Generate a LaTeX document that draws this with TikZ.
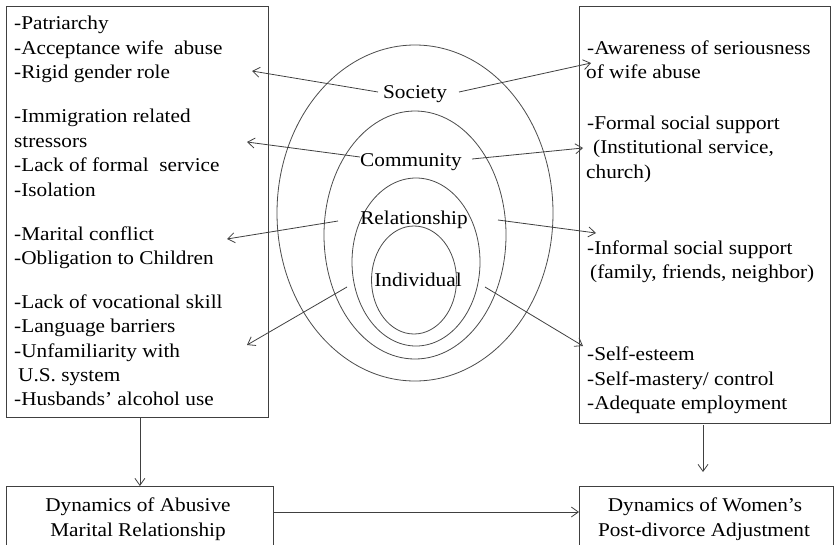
\documentclass[tikz,border=0pt]{standalone}
\usepackage{fontspec}
\setmainfont{Liberation Serif}
\newfontfamily\tnr{Liberation Serif}[FakeStretch=1.09]
\usetikzlibrary{arrows.meta,shapes.geometric}
\begin{document}
\begin{tikzpicture}[x=1pt,y=-1pt,
  every node/.style={inner sep=0pt, font=\tnr\fontsize{19.5}{23}\selectfont},
  ln/.style={draw=black!75, line width=0.8pt},
  arr/.style={ln, -{Straight Barb[length=7pt,width=10pt]}},
  boxn/.style={draw=black!75, line width=0.8pt, anchor=north west, inner sep=0pt},
  lt/.style={anchor=base west, text=black},
  ct/.style={anchor=base, text=black},
  ring/.style={draw=black!70, line width=0.8pt, ellipse, inner sep=0pt}]
\useasboundingbox (0,0) rectangle (834,544);
\fill[white] (0,0) rectangle (834,544);
% boxes
\node[boxn, minimum width=262pt, minimum height=411pt] (lbox) at (6,6) {};
\node[boxn, minimum width=251pt, minimum height=417pt] (rbox) at (579,6) {};
\node[boxn, minimum width=267pt, minimum height=80pt] (abr) at (6,486) {};
\node[boxn, minimum width=254pt, minimum height=80pt] (wpa) at (579,486) {};
% ellipses
\node[ring, minimum width=276pt, minimum height=336pt] (e1) at (415,213) {};
\node[ring, minimum width=182pt, minimum height=248pt] (e2) at (415,235) {};
\node[ring, minimum width=128pt, minimum height=168pt] (e3) at (416,262) {};
\node[ring, minimum width=85pt, minimum height=108pt] (e4) at (414,280) {};
% ring labels
\node[ct] (soc) at (415,98) {Society};
\node[ct] (com) at (411,166) {Community};
\node[ct] (rel) at (414,224) {Relationship};
\node[ct] (ind) at (418,286) {Individual};
% left texts
\node[lt] (l1) at (14,29) {-Patriarchy};
\node[lt] (l2) at (14,54) {-Acceptance wife\ \ abuse};
\node[lt] (l3) at (14,78) {-Rigid gender role};
\node[lt] (l4) at (14,122) {-Immigration related};
\node[lt] (l5) at (14,147) {stressors};
\node[lt] (l6) at (14,171) {-Lack of formal\ \ service};
\node[lt] (l7) at (14,196) {-Isolation};
\node[lt] (l8) at (14,240) {-Marital conflict};
\node[lt] (l9) at (14,264) {-Obligation to Children};
\node[lt] (l10) at (14,308) {-Lack of vocational skill};
\node[lt] (l11) at (14,332) {-Language barriers};
\node[lt] (l12) at (14,357) {-Unfamiliarity with};
\node[lt] (l13) at (18,381) {U.S.\ system};
\node[lt] (l14) at (14,405) {-Husbands’ alcohol use};
% right texts
\node[lt] (r1) at (587,54) {-Awareness of seriousness};
\node[lt] (r2) at (586,78) {of wife abuse};
\node[lt] (r3) at (587,129) {-Formal social support};
\node[lt] (r4) at (593,153) {(Institutional service,};
\node[lt] (r5) at (586,178) {church)};
\node[lt] (r6) at (587,254) {-Informal social support};
\node[lt] (r7) at (590,278) {(family, friends, neighbor)};
\node[lt] (r8) at (587,360) {-Self-esteem};
\node[lt] (r9) at (587,385) {-Self-mastery/ control};
\node[lt] (r10) at (587,409) {-Adequate employment};
% bottom texts
\node[ct] (b1) at (138,511) {Dynamics of Abusive};
\node[ct] (b2) at (138,536) {Marital Relationship};
\node[ct] (b3) at (705,511) {Dynamics of Women’s};
\node[ct] (b4) at (704,536) {Post-divorce Adjustment};
% arrow end points
\coordinate (sL0) at (378,92);  \coordinate (sL1) at (252,71);
\coordinate (cL0) at (360,157); \coordinate (cL1) at (247,142);
\coordinate (rL0) at (338,221); \coordinate (rL1) at (227,239);
\coordinate (iL0) at (347,287); \coordinate (iL1) at (247,345);
\coordinate (sR0) at (459,92);  \coordinate (sR1) at (591,63);
\coordinate (cR0) at (472,159); \coordinate (cR1) at (583,148);
\coordinate (rR0) at (498,220); \coordinate (rR1) at (596,233);
\coordinate (iR0) at (485,287); \coordinate (iR1) at (583,346);
\draw[arr] (sL0) -- (sL1);
\draw[arr] (cL0) -- (cL1);
\draw[arr] (rL0) -- (rL1);
\draw[arr] (iL0) -- (iL1);
\draw[arr] (sR0) -- (sR1);
\draw[arr] (cR0) -- (cR1);
\draw[arr] (rR0) -- (rR1);
\draw[arr] (iR0) -- (iR1);
% vertical and horizontal connectors
\draw[arr] (lbox.south -| abr.north) -- (abr.north);
\coordinate (rv0) at (703,425);
\coordinate (rv1) at (703,472);
\draw[arr] (rv0) -- (rv1);
\coordinate (hy) at (0,512);
\draw[arr] (abr.east |- hy) -- (wpa.west |- hy);
\end{tikzpicture}
\end{document}
